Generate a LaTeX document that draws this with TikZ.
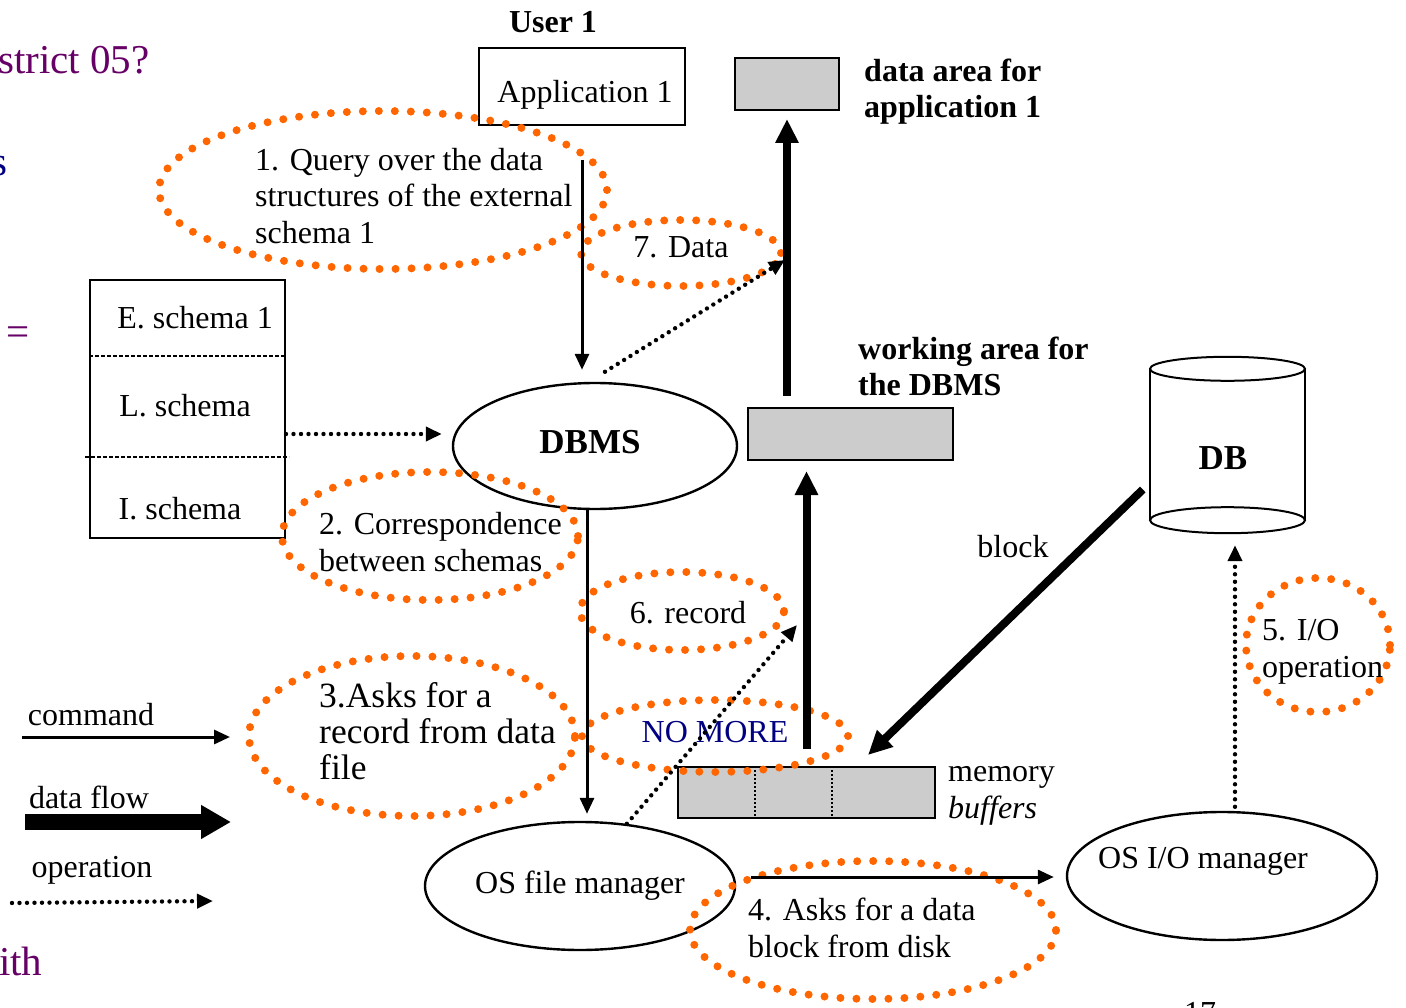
\documentclass[tikz,border=0pt]{standalone}
\usepackage{fontspec}
\setmainfont{Liberation Serif}
\usetikzlibrary{shapes.geometric, arrows.meta, positioning, calc}
\definecolor{noteorange}{RGB}{255,102,0}
\definecolor{slidepurple}{RGB}{102,0,102}
\definecolor{slidenavy}{RGB}{0,0,128}
\definecolor{bufgray}{RGB}{204,204,204}

\begin{document}
\begin{tikzpicture}[x=1pt, y=-1pt,
  font=\fontsize{32}{36.5}\selectfont,
  txt/.style={inner sep=0pt, align=left},
  hdr/.style={txt, font=\fontsize{32}{36}\selectfont\bfseries},
  plainbox/.style={draw, line width=2pt, inner sep=0pt},
  areabox/.style={plainbox, fill=bufgray},
  proc/.style={draw, ellipse, line width=2.4pt, inner sep=0pt},
  remark/.style={draw=noteorange, ellipse, line width=8pt, line cap=round, dash pattern=on 0pt off 16pt, inner sep=0pt},
  cmdarrow/.style={line width=3pt, -{Triangle[length=16pt, width=14pt]}},
  flowarrow/.style={line width=8pt, -{Triangle[length=24pt, width=22pt]}},
  oparrow/.style={line width=4.4pt, line cap=round, dash pattern=on 0pt off 7.5pt, -{Triangle[length=16pt, width=14pt]}},
  divider/.style={line width=1.6pt, dash pattern=on 4pt off 2pt}
]
  \path[use as bounding box, clip] (0,0) rectangle (1406,1008);

  % cut-off words of the slide behind
  \node[txt, anchor=west, text=slidepurple, font=\fontsize{41}{46}\selectfont] (cutdistrict) at (-2,60) {strict 05?};
  \node[txt, anchor=east, text=slidenavy, font=\fontsize{41}{46}\selectfont] (cuts) at (8,166) {s};
  \node[txt, text=slidepurple, font=\fontsize{41}{46}\selectfont] (cuteq) at (18,336) {=};
  \node[txt, anchor=west, text=slidepurple, font=\fontsize{41}{46}\selectfont] (cutwith) at (-1,961) {ith};
  \node[txt, anchor=north] (pagenum) at (1200,1002) {17};

  % user application and its data area
  \node[hdr] (user) at (553,22) {User 1};
  \node[plainbox, minimum width=206pt, minimum height=77pt] (app) at (582,86.5) {};
  \node[txt] (applbl) at (585,95) {Application 1};
  \node[areabox, minimum width=104pt, minimum height=52pt] (appdata) at (787,84) {};
  \node[hdr, anchor=west] (appdatalbl) at (864,92) {data area for\\application 1};

  % schemas
  \node[plainbox, minimum width=195pt, minimum height=258pt] (schemas) at (187.5,409) {};
  \draw[divider] ([yshift=-77pt]schemas.north west) -- ([yshift=-77pt]schemas.north east);
  \draw[divider] ([shift={(-4,178)}]schemas.north west) -- ([shift={(3,178)}]schemas.north east);
  \node[txt] (eschema) at (195,318) {E. schema 1};
  \node[txt] (lschema) at (185,406) {L. schema};
  \node[txt] (ischema) at (180,509) {I. schema};

  % DBMS and its working area
  \node[proc, minimum width=284pt, minimum height=126pt] (dbms) at (595,446) {};
  \node[inner sep=0pt, font=\fontsize{35}{40}\selectfont\bfseries] (dbmslbl) at (590,442) {DBMS};
  \node[areabox, minimum width=205pt, minimum height=52pt] (work) at (850.5,434) {};
  \node[hdr, anchor=west] (worklbl) at (858,366) {working area for\\the DBMS};

  % disk
  \node[minimum width=155pt, minimum height=151pt, inner sep=0pt] (db) at (1227.5,444.5) {};
  \draw[line width=2pt] (db.north west) -- (db.south west) (db.north east) -- (db.south east);
  \draw[line width=2pt] (db.north) ellipse [x radius=77.5pt, y radius=12pt];
  \draw[line width=2pt] (db.south) ellipse [x radius=77.5pt, y radius=13pt];
  \node[inner sep=0pt, font=\fontsize{35}{40}\selectfont\bfseries] (dblbl) at (1223,458) {DB};
  \node[txt] (blocklbl) at (1013,547) {block};

  % buffers and OS managers
  \node[areabox, minimum width=257pt, minimum height=51pt] (membuf) at (806.5,792.5) {};
  \draw[divider, dash pattern=on 2pt off 2pt] ([xshift=78pt]membuf.north west) -- ([xshift=78pt]membuf.south west);
  \draw[divider, dash pattern=on 2pt off 2pt] ([xshift=155pt]membuf.north west) -- ([xshift=155pt]membuf.south west);
  \node[txt, anchor=west] (membuflbl) at (948,796) {memory\\\textit{buffers}};
  \node[proc, minimum width=310pt, minimum height=128pt] (osfile) at (580,886) {OS file manager};
  \node[proc, minimum width=310pt, minimum height=128pt] (osio) at (1222,876) {};
  \node[txt] (osiolbl) at (1203,861) {OS I/O manager};

  % orange remarks
  \node[remark, minimum width=448pt, minimum height=158pt] (rquery) at (383,190) {};
  \node[txt, anchor=west] (rquerytxt) at (255,196) {1. Query over the data\\structures of the external\\schema 1};
  \node[remark, minimum width=200pt, minimum height=66pt] (rdata) at (681,253) {};
  \node[txt] (rdatatxt) at (681,247) {7. Data};
  \node[remark, minimum width=296pt, minimum height=128pt] (rcorr) at (430,536) {};
  \node[txt, anchor=west] (rcorrtxt) at (319,542) {2. Correspondence\\between schemas};
  \node[remark, minimum width=204pt, minimum height=78pt] (rrecord) at (682,611) {};
  \node[txt] (rrecordtxt) at (688,613) {6. record};
  \node[remark, minimum width=144pt, minimum height=134pt] (rio) at (1318,645) {};
  \node[txt, anchor=west] (riotxt) at (1262,652) {5. I/O\\operation};
  \node[remark, minimum width=326pt, minimum height=160pt] (rasks) at (412,736) {};
  \node[txt, anchor=west, font=\fontsize{35.5}{36}\selectfont] (raskstxt) at (319,731) {3.Asks for a\\record from data\\file};
  \node[remark, minimum width=266pt, minimum height=72pt] (rnomore) at (715,736) {};
  \node[txt, text=slidenavy] (rnomoretxt) at (715,732) {NO MORE};
  \node[remark, minimum width=366pt, minimum height=138pt] (rblock) at (873,930) {};
  \node[txt, anchor=west] (rblocktxt) at (748,928) {4. Asks for a data\\block from disk};

  % connectors
  \coordinate (qstart) at (582,160);
  \draw[cmdarrow, shorten >=12pt] (qstart) -- (qstart |- dbms.north);
  \draw[oparrow] ([shift={(10,-10)}]dbms.north) -- ([yshift=-7pt]rdata.east);
  \draw[flowarrow, shorten <=11pt, shorten >=8pt] (work.north -| appdata.south) -- (appdata.south);
  \draw[oparrow, shorten >=10pt] ([yshift=-25pt]schemas.east) -- ([yshift=-25pt]schemas.east -| dbms.west);
  \draw[cmdarrow, shorten >=7pt] ([xshift=-8pt]dbms.south) -- ([xshift=-8pt]dbms.south |- osfile.north);
  \coordinate (recordtip) at (797,625);
  \draw[oparrow] (osfile.53) -- (recordtip);
  \draw[flowarrow, shorten <=17pt, shorten >=10pt] (membuf.north) -- (membuf.north |- work.south);
  \coordinate (bufin) at (868,755);
  \draw[flowarrow] ([shift={(-7,45)}]db.west) -- (bufin);
  \draw[oparrow, shorten <=4pt, shorten >=25pt] ([xshift=13pt]osio.north) -- ([xshift=13pt]osio.north |- db.south);
  \coordinate (fmout) at ([shift={(15,-9)}]osfile.east);
  \draw[cmdarrow, shorten >=12pt] (fmout) -- (fmout -| osio.west);

  % legend
  \node[txt] (legcmd) at (91,715) {command};
  \coordinate (legcmdA) at (22,737);
  \coordinate (legcmdB) at (230,737);
  \draw[cmdarrow] (legcmdA) -- (legcmdB);
  \node[txt] (legflow) at (89,797) {data flow};
  \coordinate (legflowA) at (25,822);
  \coordinate (legflowB) at (231,822);
  \draw[line width=16pt, -{Triangle[length=30pt, width=32pt]}] (legflowA) -- (legflowB);
  \node[txt] (legop) at (92,870) {operation};
  \coordinate (legopA) at (12,903);
  \coordinate (legopB) at (213,901);
  \draw[oparrow] (legopA) -- (legopB);
\end{tikzpicture}
\end{document}
